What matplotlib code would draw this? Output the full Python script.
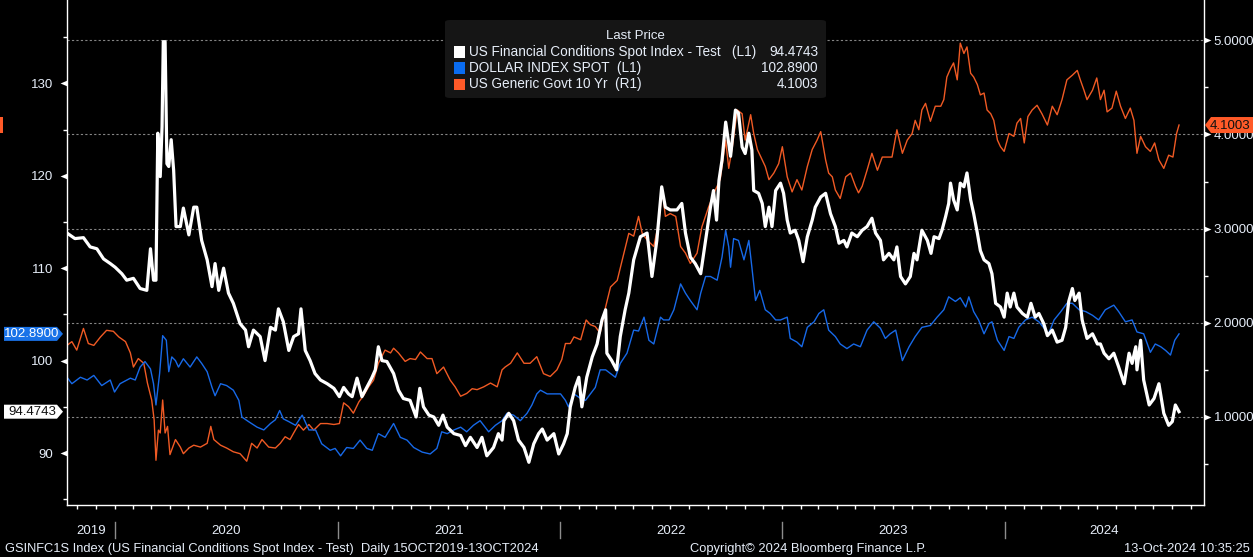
import pandas as pd
import matplotlib
matplotlib.use("Agg")
import matplotlib.pyplot as plt
import matplotlib.dates as mdates
import matplotlib.transforms as mtransforms
from matplotlib.patches import Polygon, Rectangle, FancyBboxPatch
from matplotlib.ticker import FixedLocator, NullFormatter, FormatStrFormatter

plt.rcParams['font.family'] = ['Liberation Sans', 'DejaVu Sans']

# all x values are days after 2020-01-01
fci_days = [-78, -65, -51, -40, -29, -18, -7, 1, 12, 20, 31, 42, 53, 59, 64, 68, 71, 75, 78, 80,
            83, 86, 89, 93, 97, 101, 108, 113, 122, 130, 135, 143, 152, 160, 165, 171, 179, 187, 195, 206,
            215, 220, 228, 239, 247, 256, 264, 269, 277, 286,
            294, 302, 306, 313, 321, 329, 338, 349, 360, 369, 376, 384, 390, 398, 406, 414, 422, 428, 433, 439,
            447, 458, 466, 474, 485, 495, 501, 507, 516, 524, 532, 539, 546, 557, 568, 576, 584, 595, 603, 611,
            622, 630, 636,
            639, 647, 655, 663, 672, 680, 688, 696, 702, 710, 721, 729, 737, 743, 748, 756, 762, 767, 775, 784,
            792, 800, 806, 808, 816, 824, 830, 838, 844, 852, 863, 874, 882, 890, 898, 904, 912, 923, 931, 937,
            945, 953, 962, 970, 978, 983, 988, 992, 997,
            1003, 1011, 1019, 1024, 1030, 1035, 1041, 1046, 1049, 1057, 1063, 1068, 1074, 1079, 1085, 1093, 1098,
            1104, 1109, 1117, 1123, 1130, 1137, 1145, 1150, 1159, 1167, 1175, 1183, 1189, 1197, 1202, 1210, 1219,
            1227, 1235, 1243, 1249, 1257, 1262, 1271, 1279, 1284, 1290, 1298, 1306, 1312, 1317, 1325, 1334, 1340,
            1345, 1353, 1358, 1364, 1369,
            1372, 1377, 1383, 1388, 1394, 1399, 1405, 1410, 1416, 1421, 1427, 1435, 1440, 1446, 1454, 1460, 1465,
            1470, 1476, 1481, 1490, 1498, 1504, 1511, 1517, 1525, 1531, 1539, 1547, 1555, 1561, 1566, 1572, 1576,
            1583, 1588, 1596, 1605, 1613, 1618, 1624, 1632, 1640, 1648, 1657, 1665, 1670, 1676, 1678, 1684, 1689,
            1698, 1706, 1714, 1722, 1730, 1736, 1741, 1747]
fci_vals = [113.8, 113.2, 113.3, 112.3, 112.1, 111.0, 110.5, 110.1, 109.4, 108.7, 108.9, 107.8, 107.6, 112.1,
            108.7, 108.7, 124.6, 119.9, 125.3, 134.5, 134.5, 121.3, 121.0, 123.9, 120.6, 114.5, 114.5, 116.5,
            113.6, 116.6, 116.6, 113.0, 110.9, 108.0, 110.5, 107.6, 110.0, 107.3, 106.2, 104.0, 103.3, 101.5,
            103.3, 102.6, 100.0, 103.6, 103.3, 105.6, 104.2, 101.1,
            102.6, 102.9, 105.6, 101.1, 100.0, 98.6, 97.9, 97.5, 97.0, 96.1, 97.1, 96.4, 96.1, 98.1, 96.1, 97.1,
            98.1, 99.0, 101.5, 100.0, 99.9, 98.6, 96.8, 95.9, 95.7, 93.9, 97.0, 95.0, 94.1, 93.9, 93.0, 94.1,
            92.8, 92.1, 91.9, 90.8, 91.7, 90.6, 91.7, 89.7, 90.6, 92.1, 91.4,
            93.5, 94.3, 93.5, 91.4, 90.6, 89.0, 91.0, 92.1, 92.6, 91.4, 92.1, 89.9, 91.0, 92.1, 95.0, 97.1, 98.2,
            95.0, 98.2, 100.4, 101.8, 104.4, 105.5, 100.8, 100.0, 99.0, 102.6, 105.5, 107.3, 110.9, 113.4, 113.8,
            109.1, 113.0, 118.8, 116.6, 116.3, 116.3, 117.0, 113.8, 111.2, 110.5, 109.4, 113.0, 116.6, 118.4,
            115.2, 119.5, 121.7,
            125.8, 122.1, 127.1, 126.8, 123.1, 122.4, 124.6, 122.8, 118.4, 118.1, 117.0, 114.5, 116.6, 114.5,
            118.4, 119.2, 118.1, 115.2, 113.8, 114.1, 113.0, 110.7, 113.4, 115.2, 116.6, 117.7, 118.1, 115.9,
            114.5, 112.7, 113.0, 112.3, 113.8, 113.4, 114.1, 114.5, 115.4, 113.8, 113.0, 110.9, 111.6, 110.9,
            112.3, 109.1, 108.3, 109.1, 111.6, 110.9, 114.1, 113.0, 111.6, 113.4, 113.2, 114.1, 115.6, 117.0,
            119.2, 117.4, 116.3, 119.2, 118.8, 120.3, 117.4, 115.9, 113.8, 111.9, 110.9, 110.5, 109.4, 106.2,
            105.8, 104.7, 107.3, 105.8, 107.3, 105.8, 105.1, 104.7, 106.2, 104.7, 105.1, 104.0, 102.7, 103.3,
            102.0, 102.2, 103.6, 106.4, 107.8, 106.5, 107.3, 104.4, 102.4, 102.9, 101.8, 101.8, 100.8, 100.2,
            100.8, 99.3, 97.5, 100.8, 99.7, 101.5, 99.0, 102.2, 97.9, 95.2, 95.9, 97.5, 94.3, 93.0, 93.4, 95.2,
            94.4743]

dxy_days = [-78, -70, -56, -45, -34, -21, -7, 0, 9, 26, 34, 42, 50, 59, 64, 68, 74, 79, 85, 89,
            94, 100, 105, 113, 124, 135, 143, 152, 160, 165, 174, 184, 195, 204, 209, 220, 234, 245, 256, 264,
            271, 277, 286,
            297, 308, 319, 330, 340, 354, 362, 371, 381, 392, 403, 414, 423, 433, 444, 458, 469, 480, 491, 505,
            518, 529, 537, 546, 557, 568, 578, 589, 600, 614, 625, 636,
            644, 655, 666, 677, 685, 693, 699, 710, 721, 732, 740, 745, 754, 765, 773, 781, 789, 797, 806, 814,
            822, 830, 841, 852, 860, 869, 877, 885, 896, 901, 910, 918, 929, 937, 945, 956, 962, 970, 978, 989,
            997,
            1003, 1008, 1011, 1016, 1024, 1033, 1041, 1046, 1052, 1059, 1068, 1076, 1085, 1093, 1104, 1109, 1120,
            1128, 1137, 1148, 1156, 1164, 1172, 1183, 1191, 1202, 1213, 1224, 1235, 1246, 1257, 1265, 1273, 1282,
            1293, 1304, 1314, 1325, 1339, 1350, 1361, 1369,
            1380, 1388, 1397, 1402, 1410, 1418, 1427, 1435, 1440, 1449, 1460, 1468, 1476, 1484, 1495, 1506, 1517,
            1528, 1533, 1542, 1553, 1563, 1572, 1583, 1594, 1605, 1615, 1626, 1640, 1648, 1659, 1670, 1678, 1689,
            1700, 1708, 1717, 1725, 1733, 1740, 1747]
dxy_vals = [98.2, 97.5, 98.2, 97.9, 98.4, 97.3, 97.9, 96.6, 97.5, 98.1, 97.9, 99.3, 99.9, 99.1, 97.5, 95.2,
            98.6, 102.7, 102.2, 98.8, 100.4, 100.0, 99.3, 100.2, 99.3, 100.4, 99.7, 98.8, 97.1, 96.2, 97.5, 97.3,
            96.8, 95.7, 93.9, 93.4, 92.8, 92.5, 93.2, 93.6, 94.6, 93.7, 93.4,
            93.0, 94.1, 92.5, 92.5, 91.0, 90.3, 90.5, 89.7, 90.6, 90.5, 91.4, 90.5, 90.3, 92.1, 91.7, 93.2, 91.7,
            91.4, 90.6, 90.1, 89.9, 90.5, 92.3, 92.1, 92.5, 92.8, 92.3, 93.0, 93.5, 92.3, 93.0, 93.5,
            94.3, 94.1, 93.5, 94.3, 95.2, 96.4, 96.8, 96.4, 96.4, 96.4, 95.7, 95.0, 96.4, 95.9, 95.7, 96.4, 97.1,
            99.0, 99.0, 98.6, 98.2, 99.7, 100.8, 103.3, 103.2, 104.7, 102.2, 101.8, 104.7, 104.4, 104.4, 105.5,
            108.3, 107.3, 106.5, 105.5, 107.3, 109.1, 109.1, 108.7, 111.2,
            114.1, 112.3, 110.1, 113.2, 113.0, 110.9, 113.0, 110.1, 106.5, 107.6, 105.5, 105.1, 104.4, 104.4,
            104.7, 102.4, 102.0, 101.5, 103.6, 104.2, 105.1, 105.5, 103.3, 102.6, 101.8, 101.3, 101.8, 101.5,
            103.3, 104.2, 103.5, 102.4, 102.9, 103.3, 100.0, 101.5, 102.6, 103.6, 103.8, 104.7, 105.5, 106.9,
            106.4, 106.8, 105.8, 106.9, 105.3, 104.4, 102.9, 104.0, 104.2, 102.2, 101.1, 102.6, 102.4, 103.6,
            104.4, 104.7, 104.2, 103.3, 102.9, 104.4, 105.3, 106.2, 106.2, 105.5, 105.3, 104.9, 104.4, 105.5,
            106.0, 105.3, 104.2, 104.4, 103.1, 102.9, 100.9, 101.8, 101.5, 101.1, 100.6, 102.2, 102.89]

ust_days = [-78, -70, -62, -51, -43, -34, -23, -13, -2, 7, 18, 26, 31, 39, 48, 54, 61, 65, 68, 72,
            75, 79, 83, 87, 91, 100, 108, 113, 122, 130, 141, 152, 158, 163, 174, 184, 195, 206, 217, 225,
            234, 242, 253, 264, 272, 280, 288,
            294, 302, 310, 319, 327, 338, 349, 360, 369, 376, 384, 392, 401, 409, 417, 425, 433, 444, 453, 458,
            466, 477, 485, 494, 502, 513, 521, 529, 540, 551, 559, 568, 578, 587, 595, 606, 617, 628, 636,
            641, 650, 661, 672, 682, 693, 704, 715, 726, 734, 740, 748, 754, 765, 774, 781, 789, 797, 806, 814,
            825, 836, 844, 852, 860, 866, 874, 885, 893, 899, 904, 912, 921, 929, 937, 945, 956, 964, 975, 986,
            994,
            1003, 1008, 1014, 1022, 1030, 1035, 1044, 1049, 1055, 1063, 1068, 1074, 1082, 1090, 1096, 1104, 1112,
            1120, 1128, 1137, 1145, 1153, 1159, 1167, 1172, 1178, 1183, 1191, 1200, 1208, 1216, 1221, 1227, 1235,
            1243, 1252, 1260, 1268, 1276, 1284, 1293, 1301, 1309, 1314, 1320, 1325, 1331, 1339, 1347, 1356, 1361,
            1366, 1372,
            1377, 1383, 1388, 1394, 1399, 1405, 1410, 1416, 1421, 1427, 1432, 1438, 1443, 1449, 1454, 1460, 1468,
            1476, 1481, 1487, 1493, 1499, 1506, 1514, 1522, 1531, 1539, 1547, 1555, 1563, 1572, 1580, 1585, 1591,
            1596, 1605, 1612, 1618, 1624, 1629, 1637, 1644, 1651, 1659, 1667, 1673, 1678, 1684, 1692, 1700, 1707,
            1714, 1722, 1730, 1737, 1743, 1747]
ust_vals = [1.76, 1.80, 1.71, 1.94, 1.78, 1.76, 1.85, 1.92, 1.91, 1.85, 1.80, 1.68, 1.53, 1.62, 1.57, 1.36,
            1.18, 0.97, 0.54, 0.86, 0.83, 1.18, 0.83, 0.90, 0.60, 0.76, 0.68, 0.61, 0.67, 0.70, 0.68, 0.72, 0.90,
            0.76, 0.70, 0.67, 0.63, 0.61, 0.53, 0.72, 0.67, 0.76, 0.68, 0.67, 0.72, 0.79, 0.76,
            0.83, 0.92, 0.86, 0.92, 0.86, 0.93, 0.93, 0.92, 0.93, 1.15, 1.11, 1.04, 1.16, 1.23, 1.32, 1.39, 1.57,
            1.71, 1.68, 1.73, 1.68, 1.59, 1.62, 1.61, 1.69, 1.62, 1.62, 1.46, 1.53, 1.39, 1.32, 1.22, 1.25, 1.30,
            1.29, 1.32, 1.36, 1.32, 1.50,
            1.53, 1.57, 1.68, 1.57, 1.57, 1.64, 1.46, 1.43, 1.50, 1.61, 1.78, 1.78, 1.85, 1.82, 2.03, 1.98, 1.96,
            1.89, 2.17, 2.38, 2.45, 2.74, 2.95, 2.92, 3.13, 2.95, 2.88, 2.81, 3.06, 3.41, 3.13, 3.16, 3.13, 2.81,
            2.74, 2.63, 2.74, 3.02, 3.23, 3.41, 3.52,
            3.94, 3.64, 3.87, 4.26, 4.22, 3.94, 4.21, 4.01, 3.84, 3.73, 3.66, 3.52, 3.59, 3.69, 3.87, 3.55, 3.39,
            3.52, 3.41, 3.66, 3.84, 3.94, 4.03, 3.73, 3.59, 3.55, 3.41, 3.32, 3.55, 3.59, 3.45, 3.38, 3.45, 3.62,
            3.80, 3.62, 3.76, 3.76, 3.76, 4.05, 3.80, 3.94, 4.01, 4.15, 4.05, 4.26, 4.33, 4.14, 4.30, 4.30, 4.37,
            4.61, 4.70,
            4.76, 4.58, 4.97, 4.86, 4.93, 4.65, 4.61, 4.53, 4.42, 4.44, 4.26, 4.22, 4.15, 3.94, 3.87, 3.82, 4.01,
            3.98, 4.12, 4.17, 3.91, 4.19, 4.26, 4.31, 4.22, 4.10, 4.30, 4.21, 4.37, 4.58, 4.63, 4.68, 4.58, 4.47,
            4.37, 4.47, 4.60, 4.37, 4.47, 4.24, 4.28, 4.46, 4.30, 4.17, 4.28, 4.15, 3.80, 3.98, 3.87, 3.82, 3.91,
            3.73, 3.64, 3.78, 3.76, 4.01, 4.1003]

series_names = ['US Financial Conditions Spot Index - Test   (L1)',
                'DOLLAR INDEX SPOT  (L1)',
                'US Generic Govt 10 Yr  (R1)']
left_major = [90, 100, 110, 120, 130]
left_minor = [85, 95, 105, 115, 125, 135]
right_major = [1, 2, 3, 4, 5]
right_minor = [0.5, 1.5, 2.5, 3.5, 4.5]
years = [2019, 2020, 2021, 2022, 2023, 2024]

BASE = pd.Timestamp('2020-01-01')


def to_dates(days):
    return BASE + pd.to_timedelta(days, unit='D')


W, H = 1253, 557
WHITE = '#ffffff'
BLUE = '#1769e8'
ORANGE = '#f05a24'
TXT = '#e6edf8'
GRID = '#858585'

fig = plt.figure(figsize=(W / 100, H / 100), dpi=100, facecolor='black')
ax = fig.add_axes([67 / W, 52 / H, 1137 / W, 505 / H])
ax2 = ax.twinx()
ax.set_zorder(2)
ax2.set_zorder(1)
ax.patch.set_visible(False)
ax2.patch.set_visible(False)

ax2.plot(to_dates(ust_days), ust_vals, color=ORANGE, lw=1.0)
ax.plot(to_dates(dxy_days), dxy_vals, color=BLUE, lw=1.0)
ax.plot(to_dates(fci_days), fci_vals, color=WHITE, lw=2.3, solid_joinstyle='round')

ax.set_xlim(pd.Timestamp('2019-10-15'), pd.Timestamp('2024-11-23'))
ax.set_ylim(84.38, 139.01)
ax2.set_ylim(0.065, 5.428)

for a in (ax, ax2):
    for s in a.spines.values():
        s.set_visible(False)
ax.spines['left'].set_visible(True)
ax.spines['bottom'].set_visible(True)
ax2.spines['right'].set_visible(True)
for s in (ax.spines['left'], ax.spines['bottom'], ax2.spines['right']):
    s.set_color(WHITE)
    s.set_linewidth(1.0)

# x axis: month ticks, quarter grid, year labels below
ax.xaxis.set_major_locator(mdates.MonthLocator())
ax.xaxis.set_major_formatter(NullFormatter())
ax.xaxis.set_minor_locator(mdates.MonthLocator(bymonth=[1, 4, 7, 10]))
ax.tick_params(axis='x', which='major', direction='out', length=3, width=1, color=WHITE)
ax.tick_params(axis='x', which='minor', length=0)
ax.grid(axis='x', which='minor', color=GRID, ls=(0, (2, 2)), lw=0.8)

xmin, xmax = ax.get_xlim()
xtr = ax.get_xaxis_transform()
for yr in years:
    a0 = max(mdates.date2num(pd.Timestamp(f'{yr}-01-01')), xmin)
    a1 = min(mdates.date2num(pd.Timestamp(f'{yr + 1}-01-01')), xmax)
    ax.text((a0 + a1) / 2, -0.052, str(yr), transform=xtr, ha='center', va='center',
            color=TXT, fontsize=9.5)
    if yr > years[0]:
        xs = mdates.date2num(pd.Timestamp(f'{yr}-01-01'))
        ax.plot([xs, xs], [-0.034, -0.066], transform=xtr, color='#8c8c8c', lw=1, clip_on=False)

# left axis
ax.yaxis.set_major_locator(FixedLocator(left_major))
ax.yaxis.set_minor_locator(FixedLocator(left_minor))
ax.tick_params(axis='y', which='major', length=0, pad=10, labelcolor=TXT, labelsize=9.5)
ax.tick_params(axis='y', which='minor', direction='out', length=3, width=1, color=WHITE)
ax.plot([0] * len(left_major), left_major, ls='none', marker=[(0, 0.42), (-1, 0), (0, -0.42)],
        ms=10, mew=0, color=WHITE, transform=ax.get_yaxis_transform(), clip_on=False)

# right axis
ax2.yaxis.set_major_locator(FixedLocator(right_major))
ax2.yaxis.set_minor_locator(FixedLocator(right_minor))
ax2.yaxis.set_major_formatter(FormatStrFormatter('%.4f'))
ax2.tick_params(axis='y', which='major', length=0, pad=7, labelcolor=TXT, labelsize=9.5)
ax2.tick_params(axis='y', which='minor', direction='out', length=3, width=1, color=WHITE)
ax2.grid(axis='y', which='major', color=GRID, ls=(0, (2, 2)), lw=0.8)
ax2.plot([1] * len(right_major), right_major, ls='none', marker=[(0, 0.42), (1, 0), (0, -0.42)],
         ms=10, mew=0, color=WHITE, transform=ax2.get_yaxis_transform(), clip_on=False)


# last value tags
def tag(value, ytrans, xa, verts_px, face, text, text_x, tcolor):
    tr = fig.dpi_scale_trans + mtransforms.ScaledTranslation(xa, value, ytrans)
    poly = Polygon([(vx / 100, vy / 100) for vx, vy in verts_px], closed=True, transform=tr,
                   facecolor=face, edgecolor='none', clip_on=False, zorder=20)
    ax.add_artist(poly)
    if text:
        ax.text(text_x / 100, -0.005, text, transform=tr, ha='center', va='center', color=tcolor,
                fontsize=9.5, clip_on=False, zorder=21)


left_shape = [(-63, -7), (-10, -7), (-4, 0), (-10, 7), (-63, 7)]
tag(dxy_vals[-1], ax.get_yaxis_transform(), 0, left_shape, '#1a73e8', f'{dxy_vals[-1]:.4f}', -35, WHITE)
tag(fci_vals[-1], ax.get_yaxis_transform(), 0, left_shape, WHITE, f'{fci_vals[-1]:.4f}', -35, '#111111')
tag(ust_vals[-1], ax2.get_yaxis_transform(), 1, [(1, 0), (7, -8), (60, -8), (60, 8), (7, 8)],
    '#ff5a28', f'{ust_vals[-1]:.4f}', 26, '#111111')
tag(ust_vals[-1], ax2.get_yaxis_transform(), 0, [(-67, -8), (-64, -8), (-64, 8), (-67, 8)],
    '#ff5a28', '', 0, WHITE)

# legend box
fig.patches.append(FancyBboxPatch((445 / W, 1 - 98 / H), 381 / W, 78 / H,
                                  boxstyle='round,pad=0,rounding_size=0.004',
                                  transform=fig.transFigure, facecolor='#151515',
                                  edgecolor='none', zorder=5))
fig.text(635 / W, 1 - 36 / H, 'Last Price', ha='center', va='center', color=TXT, fontsize=9.5, zorder=6)
last_vals = [fci_vals[-1], dxy_vals[-1], ust_vals[-1]]
colors = [WHITE, '#0a6cf0', '#ff5a28']
for i, (name, val, c) in enumerate(zip(series_names, last_vals, colors)):
    yc = 52 + 16 * i
    fig.patches.append(Rectangle((454 / W, 1 - (yc + 5.5) / H), 11 / W, 11 / H,
                                 transform=fig.transFigure, facecolor=c, edgecolor='none', zorder=6))
    fig.text(469 / W, 1 - yc / H, name, ha='left', va='center', color=TXT, fontsize=9.8, zorder=6)
    fig.text(818 / W, 1 - yc / H, f'{val:.4f}', ha='right', va='center', color=TXT, fontsize=9.8, zorder=6)

# footer
fy = 1 - 549 / H
fig.text(5 / W, fy, 'GSINFC1S Index (US Financial Conditions Spot Index - Test)  Daily 15OCT2019-13OCT2024',
         ha='left', va='center', color=TXT, fontsize=9.3)
fig.text(808 / W, fy, 'Copyright\u00a9 2024 Bloomberg Finance L.P.', ha='center', va='center',
         color=TXT, fontsize=9.3)
fig.text(1250 / W, fy, '13-Oct-2024 10:35:25', ha='right', va='center', color=TXT, fontsize=9.3)

fig.savefig('out.png', dpi=100, facecolor='black')
